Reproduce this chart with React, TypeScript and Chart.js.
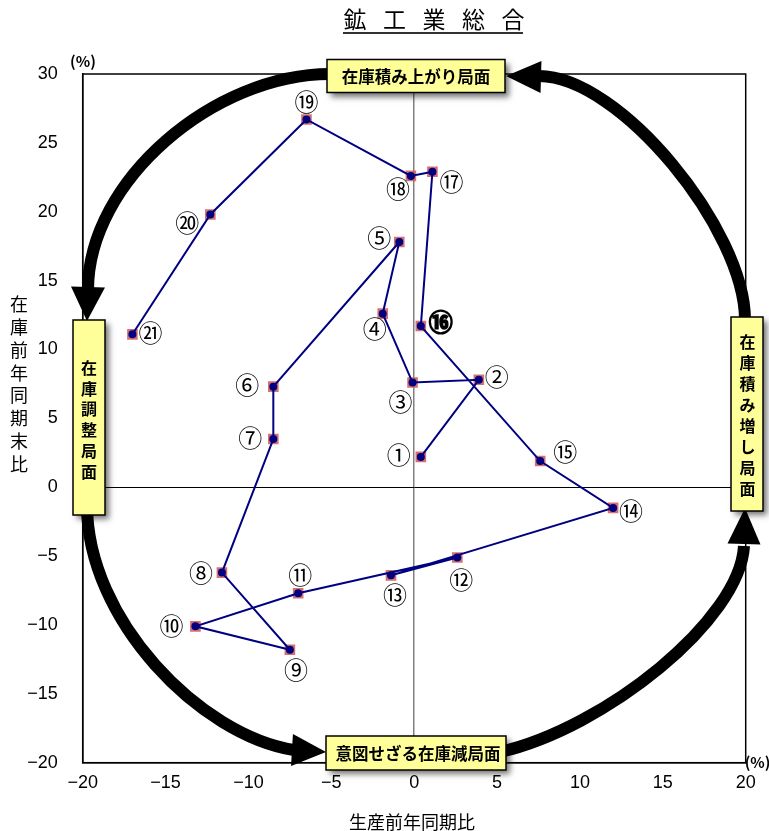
import React, { useEffect, useRef } from "react";
import { Chart, registerables } from "chart.js";

Chart.register(...registerables);

// ---- data ----
const periodLabels = ["①", "②", "③", "④", "⑤", "⑥", "⑦", "⑧", "⑨", "⑩", "⑪", "⑫", "⑬", "⑭", "⑮", "⑯", "⑰", "⑱", "⑲", "⑳", "㉑"];
const productionYoY = [0.4, 3.9, -0.1, -1.9, -0.9, -8.5, -8.5, -11.6, -7.5, -13.2, -7.0, 2.6, -1.4, 12.0, 7.6, 0.4, 1.1, -0.2, -6.5, -12.3, -17.0];
const inventoryYoY = [2.2, 7.8, 7.6, 12.6, 17.8, 7.3, 3.5, -6.2, -11.8, -10.1, -7.7, -5.1, -6.4, -1.5, 1.9, 11.7, 22.9, 22.6, 26.7, 19.8, 11.1];
const highlightedLabel = "⑯";

const chartTitle = "鉱工業総合";
const xAxisTitle = "生産前年同期比";
const yAxisTitle = "在庫前年同期末比";
const phaseTop = "在庫積み上がり局面";
const phaseLeft = "在庫調整局面";
const phaseRight = "在庫積み増し局面";
const phaseBottom = "意図せざる在庫減局面";
const unitLabel = "(%)";

// ---- layout (pixel offsets for label placement, not data) ----
const labelOffsets: [number, number][] = [
  [-22, -2], [18, -3], [-12, 19], [-8, 15], [-20, -4], [-26, -2], [-23, -1], [-21, 0],
  [6, 20], [-24, 0], [2, -18], [4, 22], [4, 20], [18, 3], [25, -9], [20, -4],
  [19, 10], [-13, 13], [0, -18], [-23, 8], [18, -1],
];

const CJK = '"Noto Sans CJK JP", "Noto Sans", sans-serif';
const NUM = '"Liberation Sans Narrow", "Liberation Sans", "DejaVu Sans Condensed", sans-serif';

function fmt(v: number) {
  return v < 0 ? "\u2212" + Math.abs(v) : String(v);
}

function drawHead(ctx: CanvasRenderingContext2D, tip: [number, number], base: [number, number], w: number) {
  const dx = tip[0] - base[0];
  const dy = tip[1] - base[1];
  const len = Math.hypot(dx, dy);
  const px = -dy / len, py = dx / len;
  ctx.beginPath();
  ctx.moveTo(tip[0], tip[1]);
  ctx.lineTo(base[0] + (px * w) / 2, base[1] + (py * w) / 2);
  ctx.lineTo(base[0] - (px * w) / 2, base[1] - (py * w) / 2);
  ctx.closePath();
  ctx.fill();
}

function drawBox(ctx: CanvasRenderingContext2D, x: number, y: number, w: number, h: number) {
  ctx.save();
  ctx.shadowColor = "rgba(0,0,0,0.55)";
  ctx.shadowBlur = 6;
  ctx.shadowOffsetX = 4;
  ctx.shadowOffsetY = 4;
  ctx.fillStyle = "#FFFF99";
  ctx.fillRect(x, y, w, h);
  ctx.restore();
  ctx.save();
  ctx.strokeStyle = "#000";
  ctx.lineWidth = 1.5;
  ctx.strokeRect(x, y, w, h);
  ctx.restore();
}

const overlayPlugin = {
  id: "overlay",
  beforeDatasetsDraw(chart: any) {
    const { ctx, chartArea } = chart;
    ctx.save();
    ctx.strokeStyle = "#000";
    ctx.lineWidth = 1.5;
    ctx.strokeRect(chartArea.left, chartArea.top, chartArea.right - chartArea.left, chartArea.bottom - chartArea.top);
    ctx.restore();
  },
  afterDraw(chart: any) {
    const { ctx, chartArea } = chart;
    ctx.save();

    // title
    ctx.fillStyle = "#000";
    ctx.font = `23px ${CJK}`;
    ctx.textAlign = "center";
    ctx.textBaseline = "middle";
    const chars = Array.from(chartTitle);
    const tStart = 355, tStep = 39.5;
    chars.forEach((c, i) => ctx.fillText(c, tStart + i * tStep, 19));
    ctx.fillStyle = "#333";
    ctx.fillRect(343, 32, 180, 2);

    // axis titles
    ctx.fillStyle = "#000";
    ctx.font = `18px ${CJK}`;
    ctx.fillText(xAxisTitle, 412, 822);
    Array.from(yAxisTitle).forEach((c, i) => ctx.fillText(c, 19, 304 + i * 22.9));

    // units
    ctx.font = `bold 15px ${CJK}`;
    ctx.textAlign = "center";
    ctx.fillText(unitLabel, 83, 61);
    ctx.textAlign = "left";
    ctx.fillText(unitLabel, chartArea.right - 1, 762);

    // point labels
    const meta = chart.getDatasetMeta(0);
    ctx.textAlign = "center";
    ctx.textBaseline = "middle";
    periodLabels.forEach((lab, i) => {
      const el = meta.data[i];
      if (!el) return;
      const [ox, oy] = labelOffsets[i];
      if (lab === highlightedLabel) {
        ctx.font = `bold 24px ${CJK}`;
        ctx.lineWidth = 1.4;
        ctx.strokeStyle = "#000";
        ctx.strokeText(lab, el.x + ox, el.y + oy);
      } else {
        ctx.font = `24px ${CJK}`;
      }
      ctx.fillStyle = "#000";
      ctx.fillText(lab, el.x + ox, el.y + oy);
    });

    // cycle arcs
    ctx.strokeStyle = "#000";
    ctx.fillStyle = "#000";
    ctx.lineWidth = 12;
    ctx.lineCap = "butt";
    const arcs: number[][] = [
      [330, 74, 215, 74, 88, 180, 88, 290],
      [745, 320, 745, 230, 620, 76, 539, 76],
      [87, 505, 87, 620, 200, 735, 294, 750],
      [500, 752, 605, 728, 740, 620, 744, 546],
    ];
    arcs.forEach((a) => {
      ctx.beginPath();
      ctx.moveTo(a[0], a[1]);
      ctx.bezierCurveTo(a[2], a[3], a[4], a[5], a[6], a[7]);
      ctx.stroke();
    });
    drawHead(ctx, [87, 321], [88, 287], 34);
    drawHead(ctx, [506, 76], [541, 77], 32);
    drawHead(ctx, [326, 752], [292, 750], 32);
    drawHead(ctx, [745, 508], [744, 544], 33);

    // phase boxes
    drawBox(ctx, 327, 59.5, 178, 33);
    drawBox(ctx, 73, 320, 32, 195);
    drawBox(ctx, 731, 317, 32, 194);
    drawBox(ctx, 326, 736, 180, 34);

    ctx.fillStyle = "#000";
    ctx.textAlign = "center";
    ctx.textBaseline = "middle";
    ctx.font = `bold 16.5px ${CJK}`;
    ctx.fillText(phaseTop, 416, 76.5);
    ctx.fillText(phaseBottom, 418, 754);
    ctx.font = `bold 16px ${CJK}`;
    Array.from(phaseLeft).forEach((c, i) => ctx.fillText(c, 89, 368 + i * 20.7));
    Array.from(phaseRight).forEach((c, i) => ctx.fillText(c, 747.5, 342 + i * 20.95));

    ctx.restore();
  },
};

export default function App() {
  const canvasRef = useRef<HTMLCanvasElement | null>(null);

  useEffect(() => {
    if (!canvasRef.current) return;
    const points = productionYoY.map((x, i) => ({ x, y: inventoryYoY[i] }));
    const tickFont = { family: NUM, size: 18 };
    const chart = new Chart(canvasRef.current, {
      type: "scatter",
      data: {
        labels: periodLabels,
        datasets: [
          {
            data: points,
            showLine: true,
            borderColor: "#000080",
            borderWidth: 2,
            pointRadius: 4,
            pointBackgroundColor: "#000080",
            pointBorderWidth: 0,
            pointHoverRadius: 4,
          },
          {
            data: points,
            showLine: false,
            pointStyle: "rect",
            pointRadius: 7.5,
            pointBackgroundColor: "rgba(210,95,95,0.9)",
            pointBorderWidth: 0,
          },
        ],
      },
      options: {
        responsive: false,
        animation: false,
        devicePixelRatio: 1,
        layout: { padding: { top: 74, right: 23.3, left: 0, bottom: 0 } },
        plugins: { legend: { display: false }, tooltip: { enabled: false }, title: { display: false } },
        scales: {
          x: {
            type: "linear",
            min: -20,
            max: 20,
            afterFit: (s: any) => { s.height = 68.3; },
            ticks: { stepSize: 5, color: "#000", font: tickFont, padding: 10, callback: (v: any) => fmt(Number(v)) },
            grid: {
              drawTicks: false,
              color: (c: any) => (c.tick && c.tick.value === 0 ? "#808080" : "rgba(0,0,0,0)"),
              lineWidth: 1.5,
            },
            border: { display: true, color: "#000", width: 1.5 },
          },
          y: {
            type: "linear",
            min: -20,
            max: 30,
            afterFit: (s: any) => { s.width = 82.7; },
            ticks: { stepSize: 5, color: "#000", font: tickFont, padding: 25, callback: (v: any) => fmt(Number(v)) },
            grid: {
              drawTicks: false,
              color: (c: any) => (c.tick && c.tick.value === 0 ? "#000" : "rgba(0,0,0,0)"),
              lineWidth: 1,
            },
            border: { display: true, color: "#000", width: 1.5 },
          },
        },
      },
      plugins: [overlayPlugin],
    } as any);
    return () => chart.destroy();
  }, []);

  return (
    <div style={{ position: "absolute", left: 0, top: 0, width: 769, height: 831, background: "#fff" }}>
      <canvas ref={canvasRef} width={769} height={831} style={{ width: 769, height: 831 }} />
    </div>
  );
}
